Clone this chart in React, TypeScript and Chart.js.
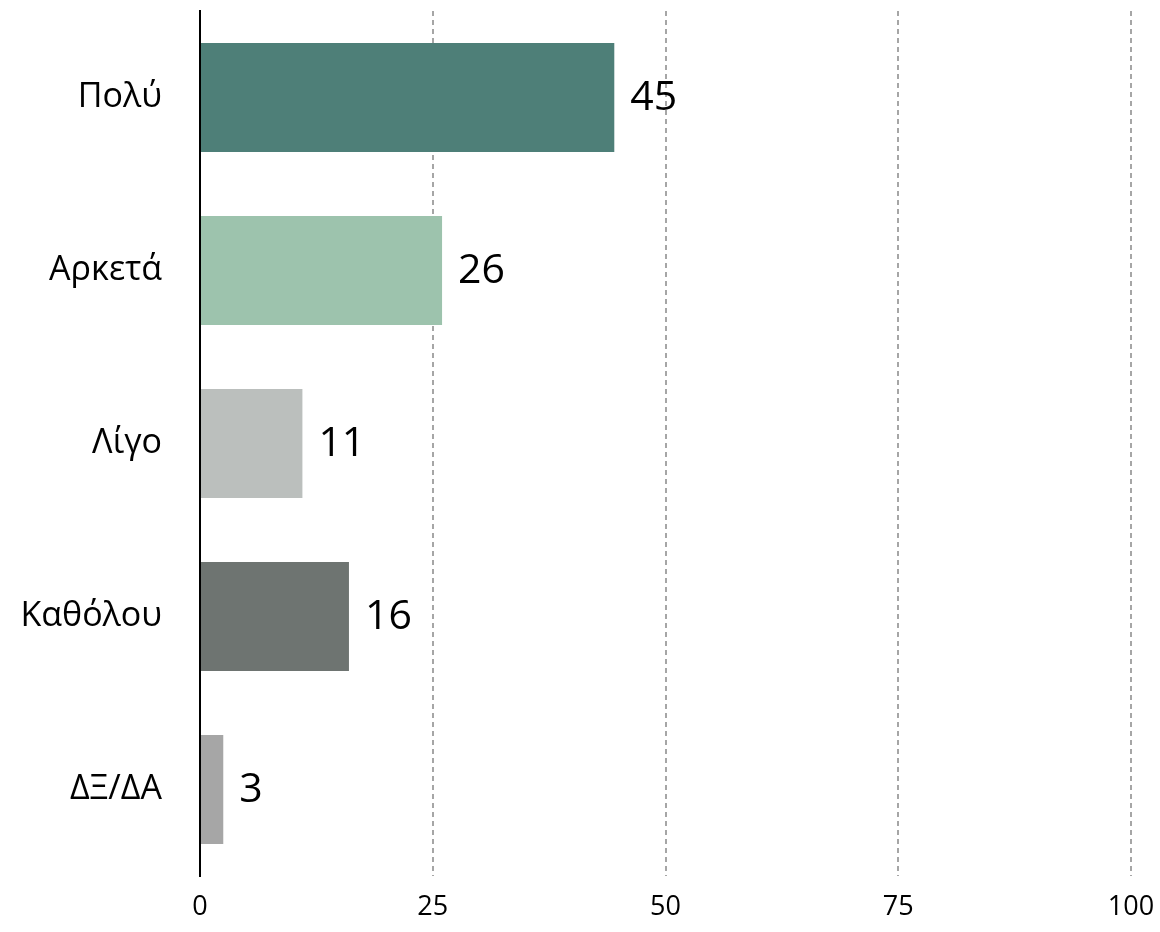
import React, { useEffect, useRef } from "react";
import { Chart, registerables } from "chart.js";

Chart.register(...registerables);

const categories = ["Πολύ", "Αρκετά", "Λίγο", "Καθόλου", "ΔΞ/ΔΑ"];
const values = [44.5, 26, 11, 16, 2.5];
const valueLabels = ["45", "26", "11", "16", "3"];
const barColors = ["#4E7F78", "#9DC3AD", "#BBBFBD", "#6E7471", "#A6A6A6"];
const xMin = 0;
const xMax = 100;
const xStep = 25;

const FONT = "'Open Sans', 'DejaVu Sans', sans-serif";

const valueLabelPlugin = {
  id: "valueLabels",
  afterDatasetsDraw(chart: any) {
    const { ctx } = chart;
    const meta = chart.getDatasetMeta(0);
    ctx.save();
    ctx.font = `41px ${FONT}`;
    ctx.fillStyle = "#000000";
    ctx.textAlign = "left";
    ctx.textBaseline = "middle";
    meta.data.forEach((el: any, i: number) => {
      ctx.fillText(valueLabels[i], el.x + 16, el.y + 1);
    });
    ctx.restore();
  },
};

export default function App() {
  const ref = useRef<HTMLCanvasElement | null>(null);

  useEffect(() => {
    if (!ref.current) return;
    const chart = new Chart(ref.current, {
      type: "bar",
      data: {
        labels: categories,
        datasets: [
          {
            data: values,
            backgroundColor: barColors,
            borderWidth: 0,
            barPercentage: 0.63,
            categoryPercentage: 1,
          },
        ],
      },
      options: {
        indexAxis: "y",
        responsive: false,
        animation: false,
        devicePixelRatio: 1,
        layout: { padding: { top: 11, right: 29, left: 0, bottom: 0 } },
        plugins: {
          legend: { display: false },
          tooltip: { enabled: false },
          title: { display: false },
        },
        scales: {
          x: {
            min: xMin,
            max: xMax,
            ticks: {
              stepSize: xStep,
              color: "#000000",
              font: { family: FONT, size: 27 },
              padding: 15,
            },
            grid: {
              display: true,
              color: "#A6A6A6",
              lineWidth: 2,
              drawTicks: false,
            },
            border: { display: false, dash: [5, 4] },
            afterFit(scale: any) {
              scale.height = 56;
              scale.paddingLeft = 0;
              scale.paddingRight = 0;
            },
          },
          y: {
            ticks: {
              color: "#000000",
              font: { family: FONT, size: 34 },
              padding: 38,
            },
            grid: { display: false, drawTicks: false },
            border: { display: true, color: "#000000", width: 2, z: 1 },
            afterFit(scale: any) {
              scale.width = 200;
              scale.paddingTop = 0;
              scale.paddingBottom = 0;
            },
          },
        },
      },
      plugins: [valueLabelPlugin],
    } as any);
    return () => chart.destroy();
  }, []);

  return (
    <div style={{ position: "fixed", left: 0, top: 0, width: 1160, height: 932, background: "#ffffff" }}>
      <canvas ref={ref} width={1160} height={932} style={{ width: 1160, height: 932, display: "block" }} />
    </div>
  );
}
